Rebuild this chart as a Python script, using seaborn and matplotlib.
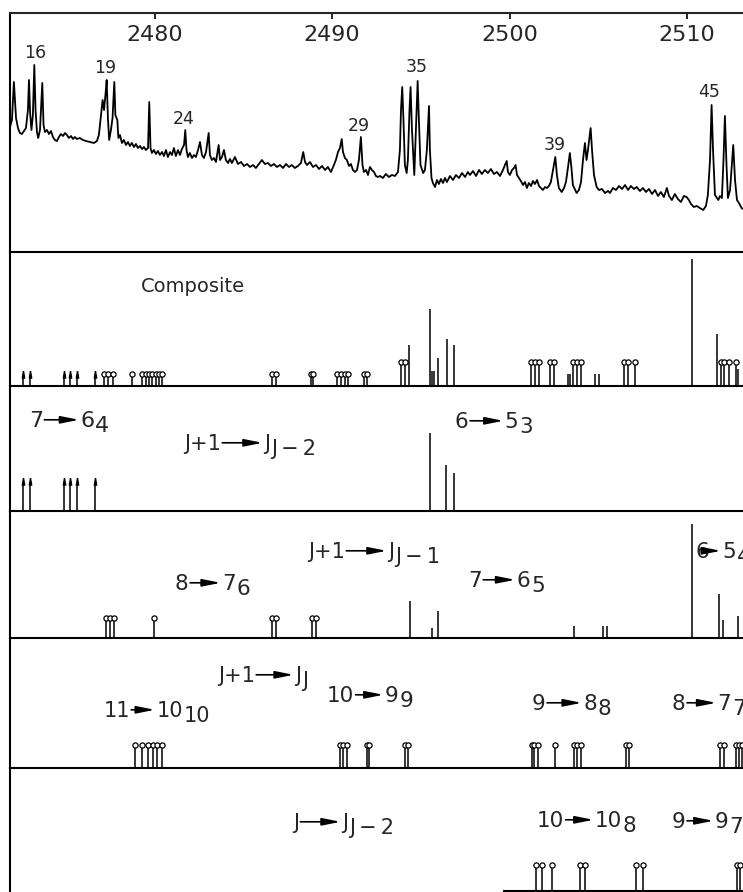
import matplotlib

matplotlib.use("Agg")
import matplotlib.pyplot as plt
import seaborn as sns

sns.set_theme(style="white")
plt.rcParams["font.family"] = ["DejaVu Sans"]

WAVENUMBER_RANGE = (2471.84, 2513.16)
TICK_VALUES = [2480, 2490, 2500, 2510]

# observed spectrum (top trace), intensity in arbitrary units above the panel floor
SPECTRUM_WAVENUMBER = [
    2471.84, 2471.95, 2472.06, 2472.18, 2472.29, 2472.40, 2472.51, 2472.63, 2472.74, 2472.85,
    2472.91, 2472.97, 2473.05, 2473.13, 2473.21, 2473.28, 2473.36, 2473.43, 2473.53, 2473.66,
    2473.73, 2473.81, 2473.92, 2474.04, 2474.15, 2474.26, 2474.37, 2474.49, 2474.60, 2474.71,
    2474.83, 2474.94, 2475.05, 2475.16, 2475.28, 2475.39, 2475.50, 2475.61, 2475.78, 2475.95,
    2476.12, 2476.35, 2476.57, 2476.74, 2476.85, 2476.97, 2477.06, 2477.14, 2477.22, 2477.29,
    2477.36, 2477.43, 2477.53, 2477.62, 2477.72, 2477.78, 2477.89, 2477.95, 2478.04, 2478.15,
    2478.26, 2478.38, 2478.49, 2478.60, 2478.71, 2478.83, 2478.94, 2479.05, 2479.17, 2479.28,
    2479.39, 2479.50, 2479.62, 2479.69, 2479.76, 2479.84, 2479.95, 2480.07, 2480.18, 2480.29,
    2480.41, 2480.52, 2480.63, 2480.74, 2480.86, 2480.97, 2481.08, 2481.19, 2481.31, 2481.42,
    2481.53, 2481.65, 2481.72, 2481.79, 2481.87, 2481.98, 2482.10, 2482.21, 2482.32, 2482.44,
    2482.55, 2482.66, 2482.77, 2482.89, 2483.04, 2483.11, 2483.22, 2483.34, 2483.45, 2483.60,
    2483.68, 2483.79, 2483.90, 2484.01, 2484.13, 2484.24, 2484.35, 2484.52, 2484.69, 2484.86,
    2485.03, 2485.20, 2485.37, 2485.54, 2485.70, 2485.87, 2486.04, 2486.21, 2486.38, 2486.55,
    2486.72, 2486.89, 2487.06, 2487.23, 2487.40, 2487.57, 2487.73, 2487.90, 2488.07, 2488.24,
    2488.37, 2488.47, 2488.58, 2488.75, 2488.92, 2489.09, 2489.26, 2489.43, 2489.60, 2489.76,
    2489.93, 2490.10, 2490.21, 2490.33, 2490.44, 2490.54, 2490.61, 2490.72, 2490.83, 2490.95,
    2491.06, 2491.17, 2491.29, 2491.40, 2491.51, 2491.62, 2491.71, 2491.79, 2491.91, 2492.02,
    2492.13, 2492.24, 2492.36, 2492.47, 2492.58, 2492.70, 2492.86, 2493.03, 2493.20, 2493.37,
    2493.54, 2493.71, 2493.82, 2493.88, 2493.95, 2494.02, 2494.10, 2494.20, 2494.27, 2494.36,
    2494.42, 2494.50, 2494.63, 2494.72, 2494.82, 2494.89, 2494.98, 2495.13, 2495.23, 2495.34,
    2495.46, 2495.51, 2495.60, 2495.68, 2495.80, 2495.91, 2496.02, 2496.13, 2496.25, 2496.36,
    2496.47, 2496.64, 2496.81, 2496.98, 2497.15, 2497.32, 2497.49, 2497.65, 2497.77, 2497.94,
    2498.11, 2498.28, 2498.44, 2498.61, 2498.78, 2498.95, 2499.12, 2499.29, 2499.46, 2499.63,
    2499.74, 2499.84, 2499.91, 2500.02, 2500.14, 2500.25, 2500.34, 2500.42, 2500.53, 2500.64,
    2500.76, 2500.87, 2500.98, 2501.09, 2501.21, 2501.32, 2501.43, 2501.55, 2501.66, 2501.77,
    2501.88, 2502.00, 2502.11, 2502.22, 2502.33, 2502.45, 2502.58, 2502.67, 2502.78, 2502.94,
    2503.07, 2503.18, 2503.29, 2503.40, 2503.49, 2503.57, 2503.78, 2503.91, 2504.03, 2504.14,
    2504.25, 2504.34, 2504.42, 2504.57, 2504.65, 2504.76, 2504.91, 2505.04, 2505.21, 2505.38,
    2505.55, 2505.66, 2505.83, 2506.00, 2506.17, 2506.34, 2506.51, 2506.68, 2506.84, 2507.01,
    2507.17, 2507.35, 2507.52, 2507.69, 2507.86, 2508.03, 2508.20, 2508.37, 2508.53, 2508.70,
    2508.87, 2508.99, 2509.15, 2509.32, 2509.49, 2509.66, 2509.83, 2509.98, 2510.11, 2510.23,
    2510.39, 2510.56, 2510.73, 2510.92, 2511.07, 2511.18, 2511.30, 2511.39, 2511.47, 2511.58,
    2511.77, 2511.86, 2511.97, 2512.06, 2512.14, 2512.23, 2512.31, 2512.43, 2512.51, 2512.61,
    2512.71, 2512.82, 2512.93, 2513.08, 2513.16,
]
SPECTRUM_INTENSITY = [
    125, 132, 170, 134, 124, 119, 118, 121, 124, 142,
    172, 140, 122, 137, 187, 142, 120, 114, 122, 169,
    127, 120, 122, 118, 121, 115, 112, 111, 115, 118,
    116, 119, 117, 114, 116, 113, 115, 113, 114, 112,
    111, 110, 109, 111, 117, 137, 152, 142, 157, 172,
    134, 112, 122, 134, 170, 137, 132, 114, 117, 109,
    112, 107, 110, 106, 109, 105, 108, 104, 106, 103,
    105, 102, 104, 150, 104, 99, 102, 98, 101, 97,
    100, 96, 102, 95, 100, 97, 104, 96, 102, 97,
    103, 107, 122, 102, 95, 99, 94, 97, 95, 102,
    110, 97, 94, 100, 119, 97, 92, 94, 90, 107,
    92, 95, 102, 92, 89, 93, 89, 95, 88, 90,
    86, 88, 85, 87, 84, 88, 92, 88, 89, 86,
    88, 85, 87, 84, 88, 85, 87, 84, 86, 89,
    100, 90, 87, 90, 85, 87, 83, 86, 82, 85,
    80, 87, 92, 100, 104, 113, 100, 94, 92, 86,
    88, 82, 80, 82, 92, 115, 87, 80, 82, 77,
    85, 82, 80, 76, 75, 76, 74, 78, 75, 77,
    76, 80, 102, 142, 165, 132, 87, 79, 92, 142,
    165, 122, 77, 122, 171, 132, 87, 79, 82, 102,
    146, 102, 74, 69, 65, 72, 68, 73, 69, 74,
    70, 76, 72, 77, 74, 79, 75, 80, 77, 81,
    76, 82, 78, 82, 79, 83, 78, 80, 76, 82,
    87, 91, 80, 77, 82, 84, 87, 77, 74, 71,
    67, 70, 64, 69, 66, 71, 68, 72, 66, 64,
    62, 65, 64, 66, 70, 82, 95, 77, 64, 60,
    64, 70, 84, 99, 84, 67, 59, 62, 70, 92,
    109, 92, 102, 124, 102, 77, 65, 62, 63, 59,
    61, 59, 64, 62, 66, 63, 67, 62, 66, 63,
    65, 61, 64, 60, 63, 58, 62, 56, 60, 55,
    64, 56, 52, 58, 53, 50, 56, 55, 52, 48,
    45, 46, 44, 42, 46, 57, 92, 147, 102, 57,
    52, 56, 54, 92, 136, 87, 54, 62, 82, 107,
    72, 52, 49, 44, 43,
]
PEAK_NUMBERS = ["16", "19", "24", "29", "35", "39", "45"]

# J+1 -> J(J-2) band head lines (drawn with arrows)
ARROW_LINES = [2472.55, 2472.95, 2474.91, 2475.25, 2475.59, 2476.63]
ARROW_HEIGHT_COMPOSITE = 14
ARROW_HEIGHT_BAND = 32

# composite: circled lines and plain lines
COMPOSITE_CIRCLES = [
    2477.15, 2477.38, 2477.63, 2478.73, 2479.26, 2479.49, 2479.67, 2479.86, 2480.05, 2480.25,
    2480.42, 2486.59, 2486.83, 2488.79, 2488.94, 2490.25, 2490.48, 2490.72, 2490.91, 2491.81,
    2491.95, 2493.86, 2494.10, 2501.21, 2501.43, 2501.67, 2502.28, 2502.52, 2503.59, 2503.78,
    2504.01, 2506.45, 2506.69, 2507.07, 2511.90, 2512.09, 2512.37, 2512.76,
]
COMPOSITE_CIRCLE_HEIGHTS = [12] * 21 + [24] * 17
COMPOSITE_LINES = [
    2494.35, 2495.51, 2495.64, 2495.74, 2495.98, 2496.45, 2496.85, 2503.32, 2503.43,
    2504.81, 2505.06, 2510.27, 2511.71, 2512.89,
]
COMPOSITE_LINE_HEIGHTS = [41, 77, 15, 15, 28, 47, 41, 12, 12, 12, 12, 127, 52, 17]

# J+1 -> J(J-2)
JM2_LINES = [2495.51, 2496.42, 2496.89]
JM2_LINE_HEIGHTS = [78, 46, 38]

# J+1 -> J(J-1)
JM1_CIRCLES = [2477.25, 2477.48, 2477.70, 2479.97, 2486.59, 2486.82, 2488.85, 2489.07]
JM1_CIRCLE_HEIGHT = 20
JM1_LINES = [2494.41, 2495.65, 2495.94, 2503.63, 2505.28, 2505.47, 2510.28, 2511.78, 2512.05, 2512.89]
JM1_LINE_HEIGHTS = [37, 10, 27, 12, 12, 12, 114, 44, 18, 22]

# J+1 -> J(J)
JJ_CIRCLES = [
    2478.88, 2479.26, 2479.63, 2479.88, 2480.11, 2480.39, 2490.44, 2490.63, 2490.82, 2491.95,
    2492.09, 2494.10, 2494.29, 2501.25, 2501.39, 2501.58, 2502.56, 2503.63, 2503.82, 2504.01,
    2506.56, 2506.75, 2511.86, 2512.09, 2512.76, 2512.95, 2513.08,
]
JJ_CIRCLE_HEIGHT = 23

# J -> J(J-2)
Q_CIRCLES = [2501.47, 2501.81, 2502.37, 2503.97, 2504.25, 2507.11, 2507.54, 2512.80, 2512.99]
Q_CIRCLE_HEIGHT = 26
Q_BASELINE_START = 2499.63

ARROW_MARK = [(0, 1.6), (-0.45, -1.0), (0.45, -1.0), (0, 1.6)]
LABEL_ARROW = dict(arrowstyle="-|>,head_length=1.1,head_width=0.22", color="black",
                   lw=1.2, shrinkA=1, shrinkB=1, mutation_scale=10)
THIN = "\u2009"

fig = plt.figure(figsize=(7.43, 8.92), dpi=100)


def make_panel(top, bottom, ylim):
    ax = fig.add_axes([10 / 743, 1 - bottom / 892, 733 / 743, (bottom - top) / 892])
    ax.set_xlim(*WAVENUMBER_RANGE)
    ax.set_ylim(*ylim)
    ax.set_xticks([])
    ax.set_yticks([])
    for side in ("top", "right"):
        ax.spines[side].set_visible(False)
    for side in ("left", "bottom"):
        ax.spines[side].set_linewidth(1.5)
        ax.spines[side].set_color("black")
    ax.patch.set_alpha(0)
    return ax


def stems(ax, xs, heights, lw=1.1):
    ax.vlines(xs, 0, heights, colors="black", linewidth=lw)


def circles(ax, xs, heights):
    stems(ax, xs, heights)
    sns.scatterplot(x=xs, y=heights, ax=ax, marker="o", s=14, color="white",
                    edgecolor="black", linewidth=0.9, zorder=3, legend=False)


def arrows(ax, xs, tip):
    stems(ax, xs, [tip - 3] * len(xs))
    ax.plot(xs, [tip - 3.2] * len(xs), ls="none", marker=ARROW_MARK, ms=6, color="black")


def transition(ax, x, y, left, right, sub, size=15.5, gap=26):
    t1 = ax.text(x, y, left, fontsize=size, ha="left", va="baseline")
    t2 = ax.annotate(right, xy=(1, 0), xycoords=t1, xytext=(gap, 0),
                     textcoords="offset points", fontsize=size, ha="left", va="bottom")
    ax.annotate(sub, xy=(1, 0), xycoords=t2, xytext=(0.5, -3.6),
                textcoords="offset points", fontsize=size, ha="left", va="bottom")
    ax.annotate("", xy=(0, 0.56), xycoords=t2, xytext=(1, 0.56), textcoords=t1,
                arrowprops=LABEL_ARROW)


def j_sub(offset):
    return "J" + THIN + "\u2212" + THIN + offset


# observed spectrum
ax = make_panel(13, 252, (0, 239))
ax.spines["top"].set_visible(True)
ax.spines["top"].set_linewidth(1.5)
sns.lineplot(x=SPECTRUM_WAVENUMBER, y=SPECTRUM_INTENSITY, ax=ax, sort=False,
             estimator=None, color="black", linewidth=1.3)
ax.xaxis.tick_top()
ax.set_xticks(TICK_VALUES)
ax.set_xticklabels([str(t) for t in TICK_VALUES])
ax.tick_params(axis="x", direction="in", length=4, width=1.4, pad=-23, labelsize=16)
peak_spots = [(2473.25, 199), (2477.19, 184), (2481.65, 133), (2491.51, 126),
              (2494.78, 185), (2502.56, 107), (2511.24, 160)]
for label, (px, py) in zip(PEAK_NUMBERS, peak_spots):
    ax.text(px, py, label, fontsize=12.5, ha="center", va="center")

# composite
ax = make_panel(252, 386, (0, 134))
arrows(ax, ARROW_LINES, ARROW_HEIGHT_COMPOSITE)
stems(ax, COMPOSITE_LINES, COMPOSITE_LINE_HEIGHTS)
circles(ax, COMPOSITE_CIRCLES, COMPOSITE_CIRCLE_HEIGHTS)
ax.text(2482.15, 100, "Composite", fontsize=14, ha="center", va="center")

# J+1 -> J(J-2)
ax = make_panel(386, 511, (0, 125))
arrows(ax, ARROW_LINES, ARROW_HEIGHT_BAND)
stems(ax, JM2_LINES, JM2_LINE_HEIGHTS)
transition(ax, 2472.90, 84, "7", "6", "4", 16, 27)
transition(ax, 2481.65, 61, "J+1", "J", j_sub("2"), 15, 31)
transition(ax, 2496.92, 83, "6", "5", "3")

# J+1 -> J(J-1)
ax = make_panel(511, 638, (0, 127))
circles(ax, JM1_CIRCLES, [JM1_CIRCLE_HEIGHT] * len(JM1_CIRCLES))
stems(ax, JM1_LINES, JM1_LINE_HEIGHTS)
transition(ax, 2488.64, 80, "J+1", "J", j_sub("1"), 15, 31)
transition(ax, 2481.14, 48, "8", "7", "6", 15.5, 24)
transition(ax, 2497.66, 51, "7", "6", "5", 15.5, 25)
transition(ax, 2510.51, 80, "6", "5", "4", 15.5, 9)

# J+1 -> J(J)
ax = make_panel(638, 768, (0, 130))
circles(ax, JJ_CIRCLES, [JJ_CIRCLE_HEIGHT] * len(JJ_CIRCLES))
transition(ax, 2483.56, 86, "J+1", "J", "J", 15, 29)
transition(ax, 2477.10, 51, "11", "10", "10", 15, 19)
transition(ax, 2489.71, 66, "10", "9", "9", 15.5, 22)
transition(ax, 2501.26, 58, "9", "8", "8", 15.5, 27)
transition(ax, 2509.15, 58, "8", "7", "7", 15.5, 23)

# J -> J(J-2)
ax = make_panel(768, 892, (-1, 123))
ax.spines["bottom"].set_visible(False)
ax.hlines(0, Q_BASELINE_START, WAVENUMBER_RANGE[1], colors="black", linewidth=1.5)
circles(ax, Q_CIRCLES, [Q_CIRCLE_HEIGHT] * len(Q_CIRCLES))
transition(ax, 2487.79, 62, "J", "J", j_sub("2"), 15, 31)
transition(ax, 2501.55, 64, "10", "10", "8", 15.5, 22)
transition(ax, 2509.15, 63, "9", "9", "7", 15.5, 21)

fig.savefig("out.png", dpi=100)
